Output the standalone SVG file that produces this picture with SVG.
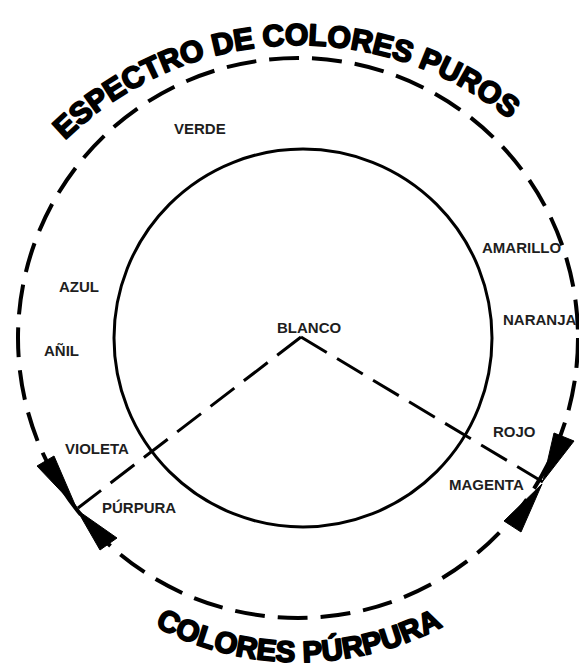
<svg xmlns="http://www.w3.org/2000/svg" width="579" height="667" viewBox="0 0 579 667">
  <style>
    .lbl { font-family: "Liberation Sans", Arial, sans-serif; font-weight: bold; font-size: 15px; fill: #1e1e1e; }
    .title { font-family: "Liberation Sans", Arial, sans-serif; font-weight: bold; fill: #000; stroke: #000; stroke-width: 1.9; stroke-linejoin: round; }
    .dash { fill: none; stroke: #000; stroke-width: 3; stroke-dasharray: 30 12; }
    .outer { fill: none; stroke: #000; stroke-width: 4; stroke-dasharray: 30 13; }
    .inner { fill: none; stroke: #000; stroke-width: 3; }
    .arrow { fill: #000; stroke: #000; stroke-width: 1; stroke-linejoin: round; }
  </style>
  <defs>
    <path id="topArc" d="M -36 380 A 335 335 0 0 1 634 380"/>
    <path id="bottomArc" d="M -9 354 A 308 308 0 0 0 607 354"/>
  </defs>
  <rect x="0" y="0" width="579" height="667" fill="#fff"/>

  <g id="outer-circle">
    <circle class="outer" cx="298" cy="338" r="280"/>
  </g>
  <g id="inner-circle">
    <circle class="inner" cx="303" cy="338" r="189"/>
  </g>

  <g id="connectors">
    <line class="dash" x1="301" y1="337" x2="78" y2="508"/>
    <line class="dash" x1="301" y1="337" x2="543" y2="482"/>
    <polygon class="arrow" points="76,507 37,466 54,456"/>
    <polygon class="arrow" points="77,510 100,550 117,538"/>
    <polygon class="arrow" points="543,481 554,433 574,441"/>
    <polygon class="arrow" points="542,484 504,521 521,532"/>
  </g>

  <g id="title-top">
    <text class="title" font-size="30"><textPath href="#topArc" startOffset="48.5%" text-anchor="middle">ESPECTRO DE COLORES PUROS</textPath></text>
  </g>
  <g id="title-bottom">
    <text class="title" font-size="29.5"><textPath href="#bottomArc" startOffset="50%" text-anchor="middle">COLORES PÚRPURA</textPath></text>
  </g>

  <g id="node-blanco"><text class="lbl" x="277" y="333">BLANCO</text></g>
  <g id="node-verde"><text class="lbl" x="174" y="134">VERDE</text></g>
  <g id="node-azul"><text class="lbl" x="59" y="292">AZUL</text></g>
  <g id="node-anil"><text class="lbl" x="44" y="356">AÑIL</text></g>
  <g id="node-violeta"><text class="lbl" x="65" y="454">VIOLETA</text></g>
  <g id="node-purpura"><text class="lbl" x="102" y="513">PÚRPURA</text></g>
  <g id="node-amarillo"><text class="lbl" x="482" y="253">AMARILLO</text></g>
  <g id="node-naranja"><text class="lbl" x="503" y="325">NARANJA</text></g>
  <g id="node-rojo"><text class="lbl" x="493" y="437">ROJO</text></g>
  <g id="node-magenta"><text class="lbl" x="449" y="490">MAGENTA</text></g>
</svg>
